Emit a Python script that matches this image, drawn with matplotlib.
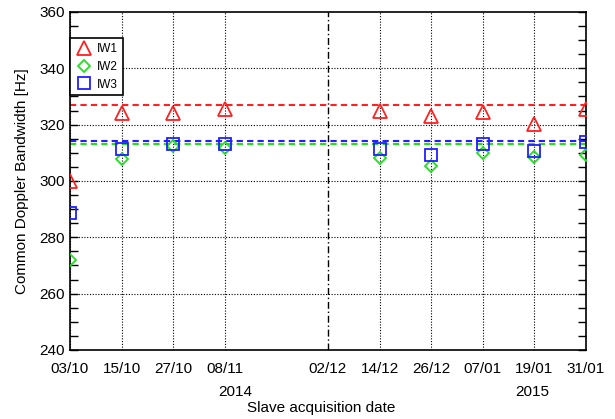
import datetime as dt
import numpy as np
import matplotlib
matplotlib.use('Agg')
import matplotlib.pyplot as plt
from matplotlib.ticker import MultipleLocator

plt.rcParams['font.family'] = ['Liberation Sans', 'DejaVu Sans']

# acquisition dates of the slave images
fechas = ['03/10/2014', '15/10/2014', '27/10/2014', '08/11/2014',
          '14/12/2014', '26/12/2014', '07/01/2015', '19/01/2015', '31/01/2015']
maestra = '02/12/2014'

iw1 = [300.0, 324.1, 324.0, 325.5, 324.9, 322.9, 324.4, 320.2, 325.5]
iw2 = [271.8, 307.9, 312.4, 311.6, 308.2, 305.3, 310.0, 308.5, 309.4]
iw3 = [288.5, 311.4, 313.0, 313.0, 311.5, 309.4, 313.3, 310.6, 313.8]

# common bandwidth reference levels per swath
ref_iw1 = 327.1
ref_iw2 = 313.2
ref_iw3 = 314.1

ticks_fechas = ['03/10/2014', '15/10/2014', '27/10/2014', '08/11/2014', '02/12/2014',
                '14/12/2014', '26/12/2014', '07/01/2015', '19/01/2015', '31/01/2015']

t0 = dt.datetime.strptime(fechas[0], '%d/%m/%Y')
def dias(s):
    return (dt.datetime.strptime(s, '%d/%m/%Y') - t0).days

x = np.array([dias(f) for f in fechas])
xm = dias(maestra)
xticks = [dias(f) for f in ticks_fechas]
etiquetas = [f[:5] for f in ticks_fechas]

fig = plt.figure(figsize=(6.15, 4.19), dpi=100)
ax = fig.add_axes([0.1138, 0.1647, 0.839, 0.8067])

for xt in xticks:
    if xt != xm:
        ax.axvline(xt, color='k', ls=(0, (1, 1.5)), lw=0.8, zorder=1)
for yt in range(260, 360, 20):
    ax.axhline(yt, color='k', ls=(0, (1, 1.5)), lw=0.8, zorder=1)
ax.axvline(xm, color='k', ls=(0, (5, 2, 1, 2)), lw=1.0, zorder=1)

ax.axhline(ref_iw1, color='#ff2020', ls=(0, (3, 2)), lw=1.5, zorder=2)
ax.axhline(ref_iw2, color='#20e020', ls=(0, (3, 2)), lw=1.5, zorder=2)
ax.axhline(ref_iw3, color='#2020ff', ls=(0, (3, 2)), lw=1.5, zorder=2)

ax.plot(x, iw1, ls='none', marker='^', ms=9.5, mfc='none', mec='#ff2020', mew=1.3, label='IW1', zorder=3)
ax.plot(x, iw2, ls='none', marker='D', ms=6.5, mfc='none', mec='#20e020', mew=1.3, label='IW2', zorder=3)
ax.plot(x, iw3, ls='none', marker='s', ms=8.5, mfc='none', mec='#2020ff', mew=1.3, label='IW3', zorder=3)

ax.set_xlim(0, 120)
ax.set_ylim(240, 360)
ax.set_xticks(xticks)
ax.set_xticklabels(etiquetas, fontsize=11)
ax.yaxis.set_major_locator(MultipleLocator(20))
ax.yaxis.set_minor_locator(MultipleLocator(5))
ax.tick_params(axis='x', length=0, pad=9)
ax.tick_params(axis='y', which='both', direction='in', length=6, width=1,
               left=True, right=True, labelsize=11)
for s in ax.spines.values():
    s.set_linewidth(1.2)

ax.set_ylabel('Common Doppler Bandwidth [Hz]', fontsize=11, labelpad=8)
fig.text(0.522, 0.026, 'Slave acquisition date', ha='center', va='center', fontsize=11)
trans = ax.get_xaxis_transform()
ax.text(38.4, -0.124, '2014', ha='center', va='center', fontsize=11, transform=trans, clip_on=False)
ax.text(107.4, -0.124, '2015', ha='center', va='center', fontsize=11, transform=trans, clip_on=False)

leg = ax.legend(loc='upper left', bbox_to_anchor=(0.0, 0.923), fontsize=8.5,
                frameon=True, fancybox=False, handletextpad=0.3, handlelength=1.6,
                borderpad=0.4, labelspacing=0.5, borderaxespad=0)
leg.get_frame().set_edgecolor('k')
leg.get_frame().set_linewidth(1.2)
leg.get_frame().set_alpha(1)

fig.savefig('out.png', dpi=100)
